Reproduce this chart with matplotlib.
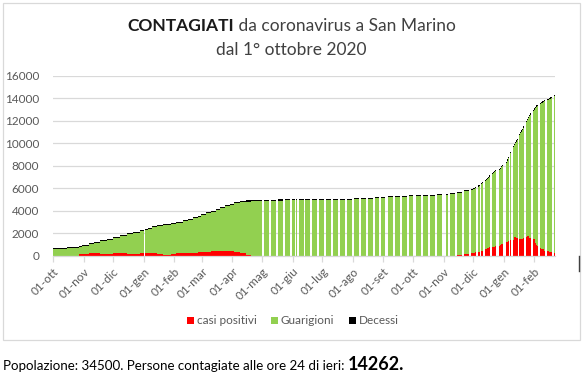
import matplotlib
matplotlib.use("Agg")
import matplotlib.pyplot as plt
import matplotlib.dates as mdates
from matplotlib.patches import Rectangle
from matplotlib.lines import Line2D
import numpy as np

plt.rcParams['font.family'] = ['Lato', 'DejaVu Sans']

# ---------------- DATA ----------------
# reporting blocks (consecutive reported days with the same value)
blocchi_inizio = [
    "2020-10-01", "2020-10-15", "2020-10-27", "2020-10-30", "2020-11-06", "2020-11-12", "2020-11-18", "2020-11-25",
    "2020-12-01", "2020-12-08", "2020-12-15", "2020-12-21", "2020-12-28",
    "2021-01-02", "2021-01-05", "2021-01-09", "2021-01-14", "2021-01-21", "2021-01-29",
    "2021-02-03", "2021-02-10", "2021-02-15", "2021-02-20", "2021-02-25", "2021-02-28",
    "2021-03-05", "2021-03-10", "2021-03-15", "2021-03-19", "2021-03-24", "2021-03-29",
    "2021-04-03", "2021-04-09", "2021-04-15", "2021-04-20",
    "2021-05-03", "2021-05-10", "2021-05-17", "2021-05-24", "2021-05-31", "2021-06-04",
    "2021-06-07", "2021-06-14", "2021-06-21", "2021-06-28",
    "2021-07-05", "2021-07-12", "2021-07-19", "2021-07-26",
    "2021-08-02", "2021-08-09", "2021-08-16", "2021-08-23", "2021-08-30",
    "2021-09-06", "2021-09-13", "2021-09-20", "2021-09-27",
    "2021-10-04", "2021-10-11", "2021-10-18", "2021-10-25",
    "2021-11-03", "2021-11-08", "2021-11-15", "2021-11-22",
]
blocchi_fine = [
    "2020-10-14", "2020-10-26", "2020-10-29", "2020-11-05", "2020-11-11", "2020-11-17", "2020-11-24", "2020-11-30",
    "2020-12-07", "2020-12-14", "2020-12-20", "2020-12-27", "2020-12-31",
    "2021-01-04", "2021-01-08", "2021-01-13", "2021-01-20", "2021-01-28", "2021-02-02",
    "2021-02-09", "2021-02-14", "2021-02-19", "2021-02-24", "2021-02-27", "2021-03-04",
    "2021-03-09", "2021-03-14", "2021-03-18", "2021-03-23", "2021-03-28", "2021-04-02",
    "2021-04-08", "2021-04-14", "2021-04-19", "2021-04-30",
    "2021-05-07", "2021-05-14", "2021-05-21", "2021-05-28", "2021-06-02", "2021-06-04",
    "2021-06-11", "2021-06-18", "2021-06-25", "2021-07-02",
    "2021-07-09", "2021-07-16", "2021-07-23", "2021-07-30",
    "2021-08-06", "2021-08-13", "2021-08-20", "2021-08-27", "2021-09-02",
    "2021-09-10", "2021-09-17", "2021-09-24", "2021-09-30",
    "2021-10-08", "2021-10-15", "2021-10-22", "2021-10-29",
    "2021-11-05", "2021-11-12", "2021-11-19", "2021-11-26",
]
blocchi_contagiati = [
    700, 780, 880, 980, 1130, 1250, 1400, 1550,
    1700, 1870, 2020, 2170, 2320,
    2420, 2520, 2620, 2730, 2815, 2930,
    3050, 3170, 3290, 3440, 3580, 3730,
    3880, 4020, 4160, 4330, 4500, 4650,
    4760, 4870, 4920, 4950,
    4990, 5000, 5010, 5020, 5030, 5030,
    5040, 5040, 5040, 5040,
    5040, 5040, 5040, 5050,
    5130, 5130, 5140, 5240, 5240,
    5330, 5330, 5340, 5420,
    5420, 5420, 5430, 5490,
    5520, 5570, 5670, 5820,
]
blocchi_positivi = [
    30, 30, 180, 180, 240, 300, 210, 210,
    300, 250, 210, 210, 280,
    300, 300, 300, 210, 120, 210,
    240, 240, 300, 300, 390, 390,
    390, 400, 420, 450, 450, 450,
    360, 240, 120, 30,
    10, 10, 10, 10, 10, 10,
    10, 10, 10, 10,
    10, 10, 10, 10,
    10, 10, 10, 10, 10,
    10, 10, 10, 10,
    10, 10, 10, 20,
    20, 40, 90, 180,
]
blocchi_decessi = [
    90, 90, 90, 90, 90, 90, 90, 90,
    90, 90, 90, 90, 90,
    90, 90, 90, 90, 90, 90,
    90, 90, 90, 90, 90, 90,
    90, 90, 90, 90, 90, 90,
    90, 90, 90, 90,
    95, 95, 95, 95, 95, 95,
    95, 95, 95, 95,
    95, 95, 95, 95,
    95, 95, 95, 95, 95,
    95, 95, 95, 95,
    95, 95, 95, 95,
    95, 95, 95, 95,
]

# single reported days (last months)
giorni = [
    "2021-11-29", "2021-11-30", "2021-12-01", "2021-12-02", "2021-12-03",
    "2021-12-06", "2021-12-07", "2021-12-09", "2021-12-10",
    "2021-12-13", "2021-12-14", "2021-12-15", "2021-12-16", "2021-12-17",
    "2021-12-20", "2021-12-21", "2021-12-22", "2021-12-23",
    "2021-12-27", "2021-12-28", "2021-12-29", "2021-12-30",
    "2022-01-03", "2022-01-04", "2022-01-05", "2022-01-07",
    "2022-01-10", "2022-01-11", "2022-01-12", "2022-01-13", "2022-01-14",
    "2022-01-17", "2022-01-18", "2022-01-19", "2022-01-20", "2022-01-21",
    "2022-01-24", "2022-01-25", "2022-01-26", "2022-01-27", "2022-01-28",
    "2022-01-31", "2022-02-01", "2022-02-02", "2022-02-03", "2022-02-04",
    "2022-02-07", "2022-02-08", "2022-02-09", "2022-02-10", "2022-02-11",
    "2022-02-14", "2022-02-15", "2022-02-16", "2022-02-17", "2022-02-18",
    "2022-02-21",
]
giorni_contagiati = [
    5930, 5970, 6020, 6070, 6130,
    6260, 6310, 6500, 6600,
    6760, 6850, 6940, 7040, 7140,
    7330, 7420, 7510, 7600,
    7700, 7830, 7960, 8090,
    8350, 8560, 8780, 9250,
    9750, 9920, 10100, 10240, 10380,
    10800, 10960, 11130, 11300, 11480,
    12000, 12170, 12340, 12500, 12640,
    12950, 13080, 13220, 13350, 13420,
    13550, 13630, 13700, 13780, 13820,
    13920, 13960, 14000, 14050, 14100,
    14262,
]
giorni_positivi = [
    300, 300, 300, 300, 320,
    390, 390, 480, 480,
    600, 620, 740, 740, 760,
    800, 800, 820, 850,
    920, 1000, 1070, 1100,
    1250, 1270, 1300, 1420,
    1450, 1720, 1700, 1600, 1570,
    1510, 1510, 1520, 1550, 1600,
    1720, 1780, 1780, 1570, 1570,
    1480, 1480, 1130, 1000, 920,
    750, 650, 590, 590, 440,
    440, 400, 330, 330, 330,
    250,
]
giorni_decessi = [
    100, 100, 100, 100, 100,
    100, 100, 100, 100,
    100, 100, 100, 100, 100,
    100, 100, 100, 100,
    100, 100, 100, 100,
    100, 100, 100, 100,
    100, 100, 100, 100, 100,
    100, 100, 100, 100, 100,
    100, 100, 100, 100, 100,
    100, 100, 100, 100, 100,
    100, 100, 100, 100, 100,
    100, 100, 100, 100, 100,
    100,
]

mesi = ["2020-10-01", "2020-11-01", "2020-12-01", "2021-01-01", "2021-02-01", "2021-03-01",
        "2021-04-01", "2021-05-01", "2021-06-01", "2021-07-01", "2021-08-01", "2021-09-01",
        "2021-10-01", "2021-11-01", "2021-12-01", "2022-01-01", "2022-02-01"]
etichette_mesi = ["01-ott", "01-nov", "01-dic", "01-gen", "01-feb", "01-mar", "01-apr", "01-mag",
                  "01-giu", "01-lug", "01-ago", "01-set", "01-ott", "01-nov", "01-dic", "01-gen", "01-feb"]
y_ticks = [0, 2000, 4000, 6000, 8000, 10000, 12000, 14000, 16000]
serie = ["casi positivi", "Guarigioni", "Decessi"]
colori = ["#FF0000", "#92D050", "#000000"]
popolazione = 34500

# ---------------- FIGURE ----------------
W, H = 583, 381
fig = plt.figure(figsize=(W / 100, H / 100), dpi=100)
fig.patch.set_facecolor("white")
ax = fig.add_axes([53 / W, 1 - 256 / H, (555 - 53) / W, (256 - 75.5) / H])

d0 = mdates.datestr2num(blocchi_inizio)
d1 = mdates.datestr2num(blocchi_fine)
dg = mdates.datestr2num(giorni)
x = np.concatenate([d0, dg]) - 0.5
w = np.concatenate([d1 - d0 + 1, np.ones(len(dg))])
tot = np.array(blocchi_contagiati + giorni_contagiati, float)
pos = np.array(blocchi_positivi + giorni_positivi, float)
dec = np.array(blocchi_decessi + giorni_decessi, float)
gua = tot - pos - dec

kw = dict(align="edge", linewidth=0, antialiased=False, zorder=3)
b1 = ax.bar(x, pos, w, color=colori[0], label=serie[0], **kw)
b2 = ax.bar(x, gua, w, bottom=pos, color=colori[1], label=serie[1], **kw)
b3 = ax.bar(x, dec, w, bottom=pos + gua, color=colori[2], label=serie[2], **kw)

ax.set_xlim(mdates.datestr2num("2020-10-01") - 0.5, mdates.datestr2num("2022-02-21") + 0.5)
ax.set_ylim(0, 16000)
ax.set_yticks(y_ticks)
ax.set_yticklabels([str(v) for v in y_ticks])
ax.yaxis.grid(True, color="#D9D9D9", linewidth=0.9)
ax.set_axisbelow(True)
for s in ["top", "right", "left"]:
    ax.spines[s].set_visible(False)
ax.spines["bottom"].set_color("#D9D9D9")
ax.spines["bottom"].set_linewidth(0.9)
ax.spines["bottom"].set_zorder(4)
ax.tick_params(axis="y", length=0, pad=10, labelsize=8.5, labelcolor="#595959")
ax.set_xticks(mdates.datestr2num(mesi) - 0.5)
ax.set_xticklabels(etichette_mesi, rotation=45, ha="right", va="top", rotation_mode="anchor")
ax.tick_params(axis="x", length=4, width=0.9, color="#D9D9D9", pad=3, labelsize=8.5, labelcolor="#595959")

# legend
fig.legend(handles=[b1, b2, b3], labels=serie, loc="center", bbox_to_anchor=(0.502, 1 - 321 / H),
           ncol=3, frameon=False, fontsize=8.5, handlelength=0.6, handleheight=0.6,
           handletextpad=0.25, columnspacing=1.2, labelcolor="#595959")

# title
r = fig.canvas.get_renderer()
ty = 1 - 26 / H
t1 = fig.text(0, ty, "CONTAGIATI", fontsize=12.5, fontweight="bold", va="center", color="#1a1a1a")
t2 = fig.text(0, ty, " da coronavirus a San Marino", fontsize=12.5, va="center", color="#404040")
w1 = t1.get_window_extent(r).width
w2 = t2.get_window_extent(r).width
sx = (W - (w1 + w2)) / 2
t1.set_x(sx / W)
t2.set_x((sx + w1) / W)
fig.text(0.5, 1 - 50 / H, "dal 1\u00b0 ottobre 2020", fontsize=12.5, ha="center", va="center", color="#404040")

# chart border
fig.add_artist(Rectangle((2.5 / W, (H - 339.5) / H), 577 / W, 337 / H, transform=fig.transFigure,
                         fill=False, edgecolor="#D9D9D9", linewidth=0.9))
fig.add_artist(Line2D([579 / W, 579 / W], [(H - 271) / H, (H - 256) / H], transform=fig.transFigure,
                      color="#404040", linewidth=1.0))

# footer
fy = 1 - 370 / H
t3 = fig.text(3 / W, fy, f"Popolazione: {popolazione}. Persone contagiate alle ore 24 di ieri: ",
              fontsize=9.6, va="baseline", color="black")
w3 = t3.get_window_extent(r).width
fig.text((3 + w3) / W, fy, f"{giorni_contagiati[-1]}.", fontsize=13, fontweight="bold",
         va="baseline", color="black")

fig.savefig("out.png", dpi=100, facecolor="white")
